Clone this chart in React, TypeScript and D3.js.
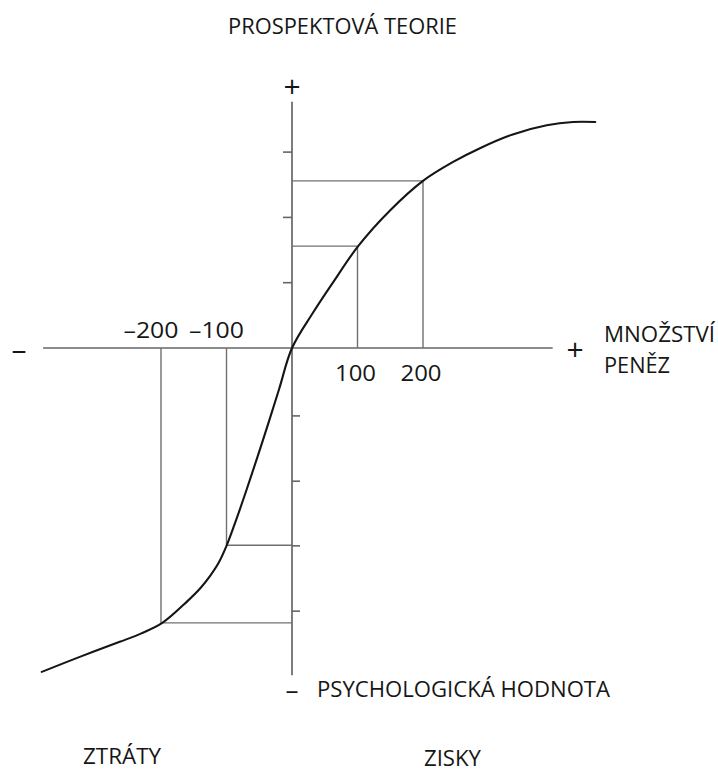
import React from "react";
import * as d3 from "d3";

// ---- data (money amount -> psychological value) ----
const curveMoney = [-382, -324, -263, -230, -198, -160, -140, -125, -112, -100, -88, -70, -45, -20, 0, 32, 63, 101, 150, 200, 246, 287, 337, 389, 429, 463];
const curveValue = [-496, -473, -450, -437, -421, -388, -368, -349, -329, -303, -271, -219, -143, -64, 0, 54, 101, 156, 211, 256, 285, 306, 327, 341, 346, 346];

const refMoney = [100, 200, -100, -200];
const refValue = [156, 256, -302, -421];

const xLabelsUp = ["–200", "–100"];
const xLabelsUpValues = [-200, -100];
const xLabelsDown = ["100", "200"];
const xLabelsDownValues = [100, 200];

const yTicksUp = [100, 200, 300];
const yTicksDown = [-104, -204, -303, -403];

const xAxisExtent = [-380, 398];
const yAxisExtent = [-501, 377];

const title = "PROSPEKTOVÁ TEORIE";
const xTitle = ["MNOŽSTVÍ", "PENĚZ"];
const yTitle = "PSYCHOLOGICKÁ HODNOTA";
const lossLabel = "ZTRÁTY";
const gainLabel = "ZISKY";

const W = 718;
const H = 771;
const FONT = "'Open Sans', 'Liberation Sans', sans-serif";
const TXT = "#161616";
const AXIS = "#666";
const REF = "#707070";
const FS = 22;

export default function App() {
  const x = d3.scaleLinear().domain([-400, 400]).range([292 - 262, 292 + 262]);
  const y = d3.scaleLinear().domain([-500, 400]).range([348 + 326.5, 348 - 261.2]);
  const x0 = x(0);
  const y0 = y(0);

  const pts = curveMoney.map((m, i) => [m, curveValue[i]] as [number, number]);
  const line = d3
    .line<[number, number]>()
    .x((d) => x(d[0]))
    .y((d) => y(d[1]))
    .curve(d3.curveCatmullRom.alpha(0.5));

  const txt = { fontFamily: FONT, fontSize: FS, fill: TXT, lengthAdjust: "spacingAndGlyphs" as const };

  return (
    <svg
      width={W}
      height={H}
      viewBox={`0 0 ${W} ${H}`}
      style={{ position: "fixed", left: 0, top: 0, background: "#fff", display: "block" }}
    >
      <rect x={0} y={0} width={W} height={H} fill="#fff" />
      {/* title */}
      <text x={228} y={34} {...txt} textLength={229}>
        {title}
      </text>

      {/* axes */}
      <line x1={x(xAxisExtent[0])} x2={x(xAxisExtent[1])} y1={y0} y2={y0} stroke={AXIS} strokeWidth={1.7} />
      <line x1={x0} x2={x0} y1={y(yAxisExtent[0])} y2={y(yAxisExtent[1])} stroke={AXIS} strokeWidth={1.7} />

      {/* y ticks */}
      {yTicksUp.map((t) => (
        <line key={"u" + t} x1={x0 - 9} x2={x0} y1={y(t)} y2={y(t)} stroke={AXIS} strokeWidth={1.6} />
      ))}
      {yTicksDown.map((t) => (
        <line key={"d" + t} x1={x0} x2={x0 + 8} y1={y(t)} y2={y(t)} stroke={AXIS} strokeWidth={1.6} />
      ))}

      {/* reference lines */}
      {refMoney.map((m, i) => (
        <g key={"r" + m}>
          <line x1={x(m)} x2={x(m)} y1={y0} y2={y(refValue[i])} stroke={REF} strokeWidth={1.4} />
          <line x1={x0} x2={x(m)} y1={y(refValue[i])} y2={y(refValue[i])} stroke={REF} strokeWidth={1.4} />
        </g>
      ))}

      {/* value curve */}
      <path d={line(pts) || ""} fill="none" stroke="#151515" strokeWidth={2.1} strokeLinecap="round" />

      {/* axis signs */}
      <text x={x0} y={85} fontFamily={FONT} fontSize={30} fill={TXT} textAnchor="middle" dominantBaseline="central">+</text>
      <text x={575} y={y0} fontFamily={FONT} fontSize={30} fill={TXT} textAnchor="middle" dominantBaseline="central">+</text>
      <text x={19} y={y0} fontFamily={FONT} fontSize={30} fill={TXT} textAnchor="middle" dominantBaseline="central">–</text>
      <text x={x0} y={689} fontFamily={FONT} fontSize={26} fill={TXT} textAnchor="middle" dominantBaseline="central">–</text>

      {/* x labels */}
      {xLabelsUp.map((l, i) => (
        <text key={l} x={x(xLabelsUpValues[i]) - 10} y={338} {...txt} textAnchor="middle" textLength={55}>
          {l}
        </text>
      ))}
      {xLabelsDown.map((l, i) => (
        <text key={l} x={x(xLabelsDownValues[i]) - 2} y={381} {...txt} textAnchor="middle" textLength={41}>
          {l}
        </text>
      ))}

      {/* axis titles */}
      <text x={604} y={342} {...txt} textLength={111}>{xTitle[0]}</text>
      <text x={604} y={373} {...txt} textLength={66}>{xTitle[1]}</text>
      <text x={317} y={697} {...txt} textLength={293}>{yTitle}</text>
      <text x={83} y={764} {...txt} textLength={78}>{lossLabel}</text>
      <text x={424} y={766} {...txt} textLength={57}>{gainLabel}</text>
    </svg>
  );
}
